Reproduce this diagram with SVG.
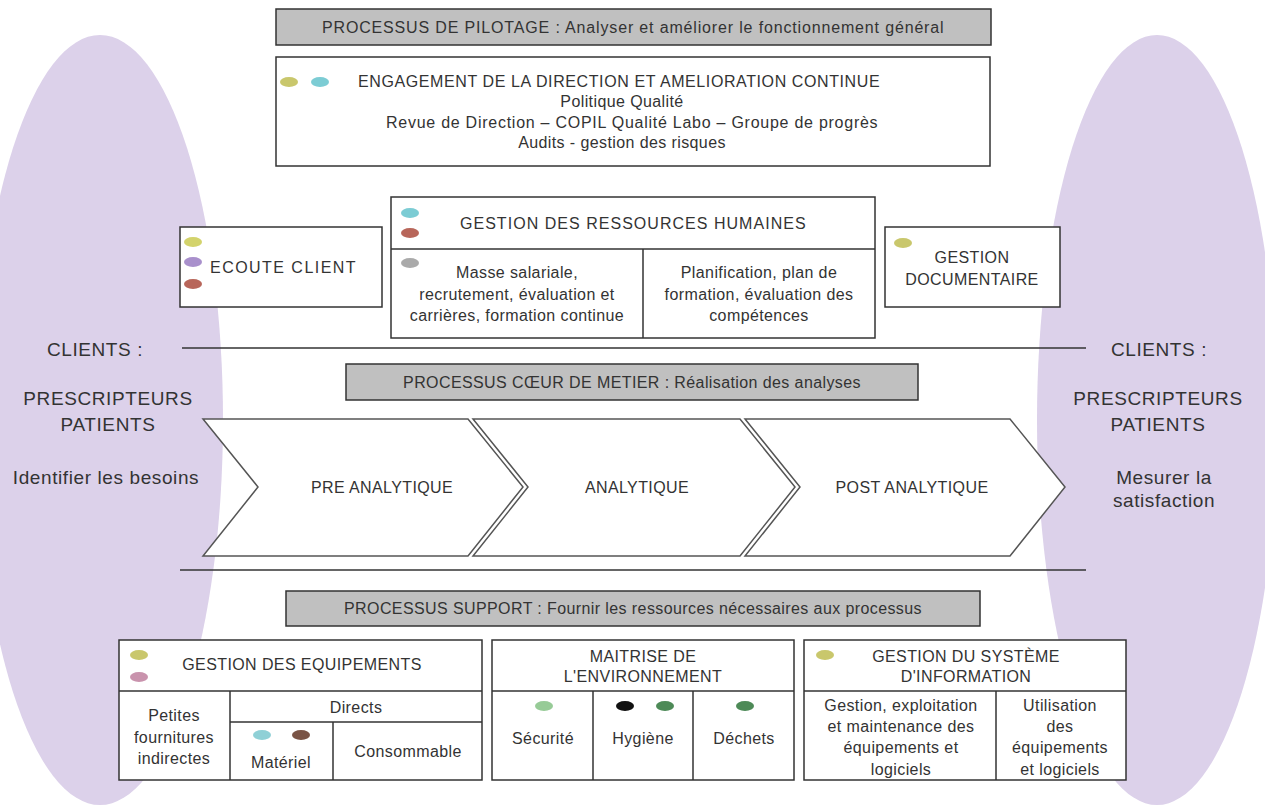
<svg xmlns="http://www.w3.org/2000/svg" width="1265" height="812" viewBox="0 0 1265 812">
<style>
text{font-family:"Liberation Sans",Arial,sans-serif;fill:#333;font-size:16px;letter-spacing:0.4px}
.c{text-anchor:middle}
.big{font-size:19px;letter-spacing:0.6px}
.box{fill:#fff;stroke:#333;stroke-width:1.5}
.gbox{fill:#c0c0c0;stroke:#333;stroke-width:1.5}
.ln{stroke:#333;stroke-width:1.5;fill:none}
.chev{fill:#fff;stroke:#555;stroke-width:1.5}
</style>
<rect width="1265" height="812" fill="#fff"/>
<g id="ellipses">
<ellipse cx="100" cy="420" rx="123" ry="385" fill="#dcd1ea"/>
<ellipse cx="1157" cy="420" rx="120" ry="385" fill="#dcd1ea"/>
</g>
<g id="connectors">
<line class="ln" x1="182" y1="348" x2="1086" y2="348"/>
<line class="ln" x1="180" y1="570" x2="1086" y2="570"/>
</g>
<g id="pilotage">
<rect class="gbox" x="276" y="9" width="715" height="36"/>
<text class="c" x="633" y="33" textLength="622">PROCESSUS DE PILOTAGE : Analyser et améliorer le fonctionnement général</text>
</g>
<g id="engagement">
<rect class="box" x="276" y="57" width="714" height="109"/>
<ellipse cx="289" cy="82" rx="9" ry="5" fill="#c9c76c"/>
<ellipse cx="320" cy="82" rx="9" ry="5" fill="#7cccd4"/>
<text class="c" x="619" y="87" textLength="522">ENGAGEMENT DE LA DIRECTION ET AMELIORATION CONTINUE</text>
<text class="c" x="622" y="107">Politique Qualité</text>
<text class="c" x="632" y="128" textLength="492">Revue de Direction – COPIL Qualité Labo – Groupe de progrès</text>
<text class="c" x="622" y="148">Audits - gestion des risques</text>
</g>
<g id="ecoute">
<rect class="box" x="180" y="227" width="202" height="80"/>
<ellipse cx="193" cy="242" rx="9" ry="5" fill="#d3d36c"/>
<ellipse cx="193" cy="262" rx="9" ry="5" fill="#a990cc"/>
<ellipse cx="193" cy="284" rx="9" ry="5" fill="#b8665a"/>
<text x="210" y="273" textLength="146">ECOUTE CLIENT</text>
</g>
<g id="grh">
<rect class="box" x="391" y="197" width="484" height="141"/>
<line class="ln" x1="391" y1="249" x2="875" y2="249"/>
<line class="ln" x1="643" y1="249" x2="643" y2="338"/>
<ellipse cx="410" cy="213" rx="9" ry="5" fill="#7cccd4"/>
<ellipse cx="410" cy="233" rx="9" ry="5" fill="#b8665a"/>
<ellipse cx="410" cy="263" rx="9" ry="5" fill="#aaaaaa"/>
<text class="c" x="633" y="229" textLength="346">GESTION DES RESSOURCES HUMAINES</text>
<text class="c" x="517" y="278">Masse salariale,</text>
<text class="c" x="517" y="300">recrutement, évaluation et</text>
<text class="c" x="517" y="321">carrières, formation continue</text>
<text class="c" x="759" y="278">Planification, plan de</text>
<text class="c" x="759" y="300">formation, évaluation des</text>
<text class="c" x="759" y="321">compétences</text>
</g>
<g id="documentaire">
<rect class="box" x="885" y="227" width="175" height="80"/>
<ellipse cx="903" cy="243" rx="9" ry="5" fill="#c9c76c"/>
<text class="c" x="972" y="263">GESTION</text>
<text class="c" x="972" y="285">DOCUMENTAIRE</text>
</g>
<g id="clients-left">
<text class="c big" x="95" y="356">CLIENTS :</text>
<text class="c big" x="108" y="405">PRESCRIPTEURS</text>
<text class="c big" x="108" y="431">PATIENTS</text>
<text class="c big" x="106" y="484">Identifier les besoins</text>
</g>
<g id="clients-right">
<text class="c big" x="1159" y="356">CLIENTS :</text>
<text class="c big" x="1158" y="405">PRESCRIPTEURS</text>
<text class="c big" x="1158" y="431">PATIENTS</text>
<text class="c big" x="1164" y="484">Mesurer la</text>
<text class="c big" x="1164" y="507">satisfaction</text>
</g>
<g id="coeur">
<rect class="gbox" x="346" y="364" width="572" height="36"/>
<text class="c" x="632" y="388">PROCESSUS CŒUR DE METIER : Réalisation des analyses</text>
</g>
<g id="pre-analytique">
<polygon class="chev" points="203,419 468,419 523,487 468,556 203,556 258,487"/>
<text class="c" x="382" y="493">PRE ANALYTIQUE</text>
</g>
<g id="analytique">
<polygon class="chev" points="473,419 740,419 795,487 740,556 473,556 528,487"/>
<text class="c" x="637" y="493">ANALYTIQUE</text>
</g>
<g id="post-analytique">
<polygon class="chev" points="745,419 1010,419 1065,487 1010,556 745,556 800,487"/>
<text class="c" x="912" y="493">POST ANALYTIQUE</text>
</g>
<g id="support">
<rect class="gbox" x="286" y="591" width="694" height="35"/>
<text class="c" x="633" y="614">PROCESSUS SUPPORT : Fournir les ressources nécessaires aux processus</text>
</g>
<g id="equipements">
<rect class="box" x="119" y="640" width="363" height="140"/>
<line class="ln" x1="119" y1="691" x2="482" y2="691"/>
<line class="ln" x1="230" y1="691" x2="230" y2="780"/>
<line class="ln" x1="230" y1="722" x2="482" y2="722"/>
<line class="ln" x1="333" y1="722" x2="333" y2="780"/>
<ellipse cx="139" cy="655" rx="9" ry="5" fill="#c9c76c"/>
<ellipse cx="139" cy="677" rx="9" ry="5" fill="#c993ad"/>
<ellipse cx="262" cy="735" rx="9" ry="5" fill="#8fd0d6"/>
<ellipse cx="301" cy="735" rx="9" ry="5" fill="#7a5446"/>
<text class="c" x="302" y="670">GESTION DES EQUIPEMENTS</text>
<text class="c" x="174" y="721">Petites</text>
<text class="c" x="174" y="743">fournitures</text>
<text class="c" x="174" y="764">indirectes</text>
<text class="c" x="356" y="713">Directs</text>
<text class="c" x="281" y="768">Matériel</text>
<text class="c" x="408" y="757">Consommable</text>
</g>
<g id="environnement">
<rect class="box" x="492" y="640" width="302" height="140"/>
<line class="ln" x1="492" y1="691" x2="794" y2="691"/>
<line class="ln" x1="593" y1="691" x2="593" y2="780"/>
<line class="ln" x1="693" y1="691" x2="693" y2="780"/>
<ellipse cx="544" cy="706" rx="9" ry="5" fill="#97cb97"/>
<ellipse cx="625" cy="706" rx="9" ry="5" fill="#111"/>
<ellipse cx="665" cy="706" rx="9" ry="5" fill="#4d8a57"/>
<ellipse cx="745" cy="706" rx="9" ry="5" fill="#4d8a57"/>
<text class="c" x="643" y="662">MAITRISE DE</text>
<text class="c" x="643" y="682">L'ENVIRONNEMENT</text>
<text class="c" x="543" y="744">Sécurité</text>
<text class="c" x="643" y="744">Hygiène</text>
<text class="c" x="744" y="744">Déchets</text>
</g>
<g id="systeme-information">
<rect class="box" x="804" y="640" width="322" height="140"/>
<line class="ln" x1="804" y1="691" x2="1126" y2="691"/>
<line class="ln" x1="996" y1="691" x2="996" y2="780"/>
<ellipse cx="825" cy="655" rx="9" ry="5" fill="#c9c76c"/>
<text class="c" x="966" y="662">GESTION DU SYSTÈME</text>
<text class="c" x="966" y="682">D'INFORMATION</text>
<text class="c" x="901" y="711">Gestion, exploitation</text>
<text class="c" x="901" y="732">et maintenance des</text>
<text class="c" x="901" y="753">équipements et</text>
<text class="c" x="901" y="775">logiciels</text>
<text class="c" x="1060" y="711">Utilisation</text>
<text class="c" x="1060" y="732">des</text>
<text class="c" x="1060" y="753">équipements</text>
<text class="c" x="1060" y="775">et logiciels</text>
</g>
</svg>
